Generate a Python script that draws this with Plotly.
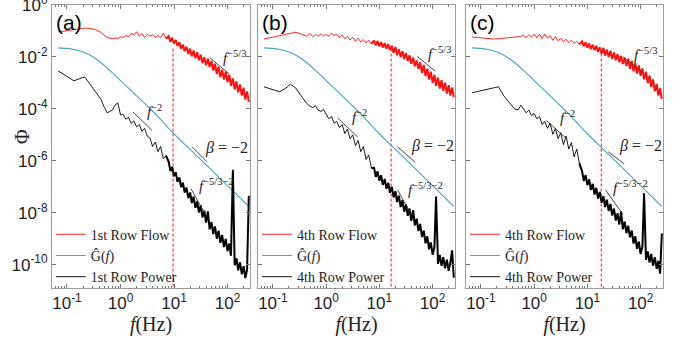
import plotly.graph_objects as go

# ---------------- data (frequencies in Hz, spectra as log10 of Phi) ----------------
F_LO = [0.068, 0.085, 0.107, 0.135, 0.17, 0.214, 0.269, 0.339, 0.427, 0.501,
        0.562, 0.631, 0.708, 0.794, 0.891, 1.0, 1.12, 1.26, 1.41, 1.58,
        1.78, 2.0, 2.24, 2.51, 2.82, 3.16, 3.55, 3.98, 4.47, 5.01,
        5.62, 6.31, 7.08]
F_HI = [7.94, 8.57, 9.25, 10.0, 10.8, 11.6, 12.6, 13.6, 14.7, 15.8,
        17.1, 18.5, 20.0, 21.5, 23.2, 25.1, 27.1, 29.2, 31.6, 34.1,
        36.8, 39.8, 43.0, 46.3, 50.1, 54.1, 58.3, 63.1, 68.1, 73.5,
        79.4, 85.7, 92.5, 100, 108, 116, 126, 136, 147, 158,
        171, 185, 200, 215, 232, 250]

FLOW_A_LO = [-1.04, -1.00, -0.98, -0.95, -0.92, -0.89, -0.90, -0.95, -1.05, -1.15,
             -1.25, -1.28, -1.30, -1.27, -1.30, -1.22, -1.25, -1.17, -1.22, -1.10,
             -1.15, -1.03, -1.20, -1.10, -1.25, -1.13, -1.20, -1.15, -1.25, -1.17,
             -1.26, -1.08, -1.30]
FLOW_A_HI = [-1.20, -1.41, -1.26, -1.48, -1.35, -1.58, -1.44, -1.68, -1.53, -1.78,
             -1.61, -1.89, -1.68, -1.98, -1.75, -2.05, -1.82, -2.13, -1.92, -2.24,
             -2.01, -2.32, -2.07, -2.39, -2.16, -2.52, -2.26, -2.66, -2.38, -2.78,
             -2.49, -2.87, -2.57, -2.97, -2.69, -3.11, -2.83, -3.25, -2.94, -3.36,
             -3.06, -3.49, -3.19, -3.64, -3.33, -3.73]
FLOW_B_LO = [-1.31, -1.27, -1.22, -1.18, -1.13, -1.08, -1.05, -1.12, -1.20, -1.10,
             -1.22, -1.14, -1.20, -1.12, -1.19, -1.14, -1.20, -1.08, -1.18, -1.12,
             -1.26, -1.15, -1.30, -1.20, -1.35, -1.25, -1.40, -1.28, -1.42, -1.33,
             -1.46, -1.36, -1.50]
FLOW_B_HI = [-1.37, -1.56, -1.39, -1.59, -1.43, -1.64, -1.47, -1.68, -1.51, -1.73,
             -1.57, -1.84, -1.62, -1.93, -1.70, -2.00, -1.78, -2.08, -1.85, -2.16,
             -1.94, -2.26, -2.03, -2.36, -2.14, -2.46, -2.21, -2.61, -2.31, -2.74,
             -2.45, -2.87, -2.57, -3.00, -2.69, -3.11, -2.80, -3.22, -2.89, -3.30,
             -2.99, -3.41, -3.09, -3.49, -3.18, -3.55]
FLOW_C_LO = [-1.23, -1.25, -1.28, -1.30, -1.31, -1.30, -1.28, -1.25, -1.22, -1.20,
             -1.21, -1.16, -1.26, -1.14, -1.24, -1.12, -1.27, -1.13, -1.30, -1.12,
             -1.28, -1.18, -1.36, -1.22, -1.38, -1.28, -1.42, -1.32, -1.45, -1.36,
             -1.48, -1.40, -1.52]
FLOW_C_HI = [-1.40, -1.59, -1.44, -1.64, -1.48, -1.70, -1.53, -1.74, -1.57, -1.80,
             -1.63, -1.88, -1.65, -1.95, -1.71, -2.00, -1.76, -2.07, -1.83, -2.13,
             -1.89, -2.20, -1.96, -2.27, -2.03, -2.35, -2.07, -2.46, -2.15, -2.55,
             -2.24, -2.64, -2.33, -2.73, -2.44, -2.86, -2.57, -3.00, -2.72, -3.15,
             -2.87, -3.32, -3.04, -3.49, -3.21, -3.62]

POWER_A_LO = [-2.54, -2.66, -2.78, -2.92, -2.84, -2.77, -3.05, -3.35, -3.62, -3.95,
              -4.15, -4.10, -4.04, -3.85, -3.77, -4.23, -4.22, -4.40, -4.32, -4.56,
              -4.46, -4.70, -4.60, -4.86, -4.75, -5.05, -5.12, -5.45, -5.28, -5.65,
              -5.45, -5.92, -5.80]
POWER_A_HI = [-6.03, -6.40, -6.24, -6.60, -6.44, -6.81, -6.64, -7.02, -6.84, -7.23,
              -7.03, -7.44, -7.22, -7.63, -7.38, -7.81, -7.56, -7.99, -7.72, -8.18,
              -7.92, -8.38, -7.95, -8.64, -8.36, -8.82, -8.53, -9.00, -8.69, -9.16,
              -8.86, -9.32, -9.01, -9.48, -9.19, -9.66, -6.35, -10.02, -9.76, -10.22,
              -9.91, -10.37, -10.06, -10.52, -10.20, -7.35]
POWER_B_LO = [-3.15, -3.20, -3.28, -3.34, -3.22, -3.05, -3.20, -3.50, -3.78, -3.90,
              -3.95, -3.88, -4.05, -4.10, -4.02, -4.20, -4.38, -4.30, -4.55, -4.48,
              -4.72, -4.60, -4.95, -4.78, -5.15, -5.00, -5.42, -5.22, -5.65, -5.45,
              -5.95, -5.78, -6.28]
POWER_B_HI = [-6.27, -6.62, -6.41, -6.77, -6.56, -6.93, -6.70, -7.08, -6.85, -7.23,
              -7.00, -7.41, -7.17, -7.59, -7.34, -7.78, -7.52, -7.96, -7.68, -8.12,
              -7.84, -8.31, -7.90, -8.49, -8.23, -8.71, -8.43, -8.94, -8.69, -9.18,
              -8.91, -9.41, -9.14, -9.62, -9.33, -7.38, -9.97, -9.63, -10.05, -9.71,
              -10.14, -9.81, -10.24, -9.93, -9.45, -10.50]
POWER_C_LO = [-3.38, -3.34, -3.30, -3.25, -3.20, -3.15, -3.50, -3.75, -4.00, -4.04,
              -3.86, -4.00, -4.15, -4.05, -4.25, -4.18, -4.38, -4.30, -4.60, -4.48,
              -4.75, -4.55, -4.98, -4.75, -5.15, -4.92, -5.38, -5.05, -5.55, -5.30,
              -5.85, -5.55, -6.10]
POWER_C_HI = [-6.40, -6.78, -6.55, -6.94, -6.71, -7.12, -6.89, -7.30, -7.04, -7.46,
              -7.20, -7.62, -7.36, -7.78, -7.50, -7.93, -7.66, -8.11, -7.84, -8.30,
              -8.02, -8.46, -7.95, -8.64, -8.34, -8.79, -8.50, -8.95, -8.69, -9.19,
              -8.91, -9.39, -9.11, -9.59, -9.31, -7.25, -9.82, -9.49, -9.92, -9.59,
              -10.04, -9.71, -10.16, -9.86, -10.35, -8.80]

G_FREQ = [0.068, 0.1, 0.15, 0.23, 0.35, 0.5, 0.63, 1.0, 2.0, 3.2, 5.0, 9.6, 20, 50, 100, 250]
G_LOG = [-1.65, -1.67, -1.73, -1.86, -2.08, -2.33, -2.52, -2.91, -3.50, -3.90, -4.30,
         -4.93, -5.56, -6.35, -6.96, -7.76]

CUTOFF_HZ = [9.6, 16.6, 18.2]
CUTOFF_TOP_LOG = [-1.60, -1.65, -1.85]

FLOW_NAMES = ["1st Row Flow", "4th Row Flow", "4th Row Flow"]
POWER_NAMES = ["1st Row Power", "4th Row Power", "4th Row Power"]
PANEL_TAGS = ["(a)", "(b)", "(c)"]

# tick decades and their labels
X_TICK_EXP = [-1, 0, 1, 2]
Y_TICK_EXP = [0, -2, -4, -6, -8, -10]

# reference power-law segments: [f^-5/3, f^-2, beta=-2, f^-5/3-2]
REF_LABELS = ["<i>f</i><sup>−5/3</sup>", "<i>f</i><sup>−2</sup>",
              "<i>β</i> = −2", "<i>f</i><sup>−5/3−2</sup>"]
REF_A_F = [[47.1, 106.7], [1.71, 3.88], [21.7, 41.4], [20.8, 38.0]]
REF_A_LOG = [[-2.04, -2.65], [-4.12, -4.83], [-5.46, -6.04], [-7.08, -8.04]]
REF_B_F = [[51.3, 112.0], [1.64, 3.89], [21.9, 46.8], [21.9, 41.7]]
REF_B_LOG = [[-1.98, -2.55], [-4.35, -5.08], [-5.46, -6.05], [-7.12, -8.15]]
REF_C_F = [[46.8, 107.0], [1.70, 4.07], [24.5, 49.0], [21.9, 45.7]]
REF_C_LOG = [[-2.00, -2.58], [-4.45, -5.15], [-5.65, -6.12], [-7.12, -8.05]]

for arr in [FLOW_A_LO, FLOW_B_LO, FLOW_C_LO, POWER_A_LO, POWER_B_LO, POWER_C_LO]:
    assert len(arr) == len(F_LO), len(arr)
for arr in [FLOW_A_HI, FLOW_B_HI, FLOW_C_HI, POWER_A_HI, POWER_B_HI, POWER_C_HI]:
    assert len(arr) == len(F_HI), len(arr)

FLOWS = [(FLOW_A_LO, FLOW_A_HI), (FLOW_B_LO, FLOW_B_HI), (FLOW_C_LO, FLOW_C_HI)]
POWERS = [(POWER_A_LO, POWER_A_HI), (POWER_B_LO, POWER_B_HI), (POWER_C_LO, POWER_C_HI)]
REF_F = [REF_A_F, REF_B_F, REF_C_F]
REF_LOG = [REF_A_LOG, REF_B_LOG, REF_C_LOG]

# ---------------- styling / layout ----------------
RED = "#ff1010"
TEAL = "rgb(74,163,192)"
SEG = "#333333"
FRAME = "#9a9a9a"
TICKC = "#777777"
SANS = "Liberation Sans, Arial, sans-serif"
SERIF = "Liberation Serif, Times New Roman, serif"

LABEL_POS = [
    [(1.88, -2.02), (0.46, -4.10), (1.54, -5.52), (1.43, -6.92)],
    [(1.88, -1.85), (0.44, -4.28), (1.56, -5.44), (1.505, -7.07)],
    [(1.84, -1.90), (0.44, -4.32), (1.56, -5.44), (1.45, -7.00)],
]
DOMAINS = [[0.0, 0.32406], [0.33715, 0.65957], [0.67758, 1.0]]
LEGEND_X = [-0.002, 0.3355, 0.676]


def to_phi(logs):
    return [10 ** v for v in logs]


def decade_text(e):
    return "10<sup>%d</sup>" % e


def add_spectrum(fig, lo, hi, color, name, leg, xa, ya):
    # low-frequency part: thin line (carries the legend entry)
    fig.add_trace(go.Scatter(
        x=F_LO + F_HI[:1], y=to_phi(lo + hi[:1]), mode="lines", name=name,
        line=dict(color=color, width=0.9), legend=leg, xaxis=xa, yaxis=ya))
    # dense high-frequency part: drawn heavier, as in the dense raw spectrum
    fig.add_trace(go.Scatter(
        x=F_LO[-1:] + F_HI, y=to_phi(lo[-1:] + hi), mode="lines", name=name,
        line=dict(color=color, width=2.0), showlegend=False, legend=leg,
        xaxis=xa, yaxis=ya))


fig = go.Figure()
annotations = []
for i in range(3):
    sfx = "" if i == 0 else str(i + 1)
    xa, ya, leg = "x" + sfx, "y" + sfx, "legend" + sfx

    fig.add_trace(go.Scatter(
        x=[CUTOFF_HZ[i], CUTOFF_HZ[i]], y=[1e-12, 10 ** CUTOFF_TOP_LOG[i]],
        mode="lines", line=dict(color=RED, width=1.0, dash="3px,2px"),
        showlegend=False, hoverinfo="skip", xaxis=xa, yaxis=ya))
    add_spectrum(fig, FLOWS[i][0], FLOWS[i][1], RED, FLOW_NAMES[i], leg, xa, ya)
    fig.add_trace(go.Scatter(
        x=G_FREQ, y=to_phi(G_LOG), mode="lines", name="Ĝ(<i>f</i>)",
        line=dict(color=TEAL, width=1.1, shape="spline", smoothing=0.6),
        legend=leg, xaxis=xa, yaxis=ya))
    add_spectrum(fig, POWERS[i][0], POWERS[i][1], "black", POWER_NAMES[i], leg, xa, ya)
    for k in range(4):
        fig.add_trace(go.Scatter(
            x=REF_F[i][k], y=to_phi(REF_LOG[i][k]), mode="lines",
            line=dict(color=SEG, width=0.9), showlegend=False, hoverinfo="skip",
            xaxis=xa, yaxis=ya))
        lx, ly = LABEL_POS[i][k]
        annotations.append(dict(
            x=lx, y=ly, xref=xa, yref=ya, text=REF_LABELS[k], showarrow=False,
            xanchor="left", yanchor="middle",
            font=dict(family=SERIF, size=16 if k == 2 else 15, color="#222")))
    annotations.append(dict(
        x=0.012, y=0.985, xref=xa + " domain", yref=ya + " domain", text=PANEL_TAGS[i],
        showarrow=False, xanchor="left", yanchor="top",
        font=dict(family=SANS, size=21, color="black")))

    xaxis = dict(
        type="log", range=[-1.28, 2.42],
        tickmode="array", tickvals=[10 ** e for e in X_TICK_EXP],
        ticktext=[decade_text(e) for e in X_TICK_EXP],
        domain=DOMAINS[i], anchor=ya, automargin=False,
        showline=True, linecolor=FRAME, linewidth=1, mirror="allticks",
        ticks="inside", ticklen=4, tickcolor=TICKC, showgrid=False, zeroline=False,
        minor=dict(ticks="inside", ticklen=2, tickcolor=TICKC, showgrid=False, dtick="D1"),
        tickfont=dict(family=SANS, size=17, color="#222"),
        title=dict(text="<i>f</i>(Hz)", font=dict(family=SERIF, size=20, color="#222"), standoff=4),
    )
    yaxis = dict(
        type="log", range=[-10.9, 0],
        tickmode="array", tickvals=[10 ** e for e in Y_TICK_EXP],
        ticktext=[decade_text(e) for e in Y_TICK_EXP],
        anchor=xa, domain=[0, 1], automargin=False, ticklabeloverflow="allow",
        showline=True, linecolor=FRAME, linewidth=1, mirror="allticks",
        ticks="inside", ticklen=4, tickcolor=TICKC, showgrid=False, zeroline=False,
        showticklabels=(i == 0),
        tickfont=dict(family=SANS, size=17, color="#222"),
    )
    fig.update_layout(**{"xaxis" + sfx: xaxis, "yaxis" + sfx: yaxis})
    fig.update_layout(**{leg: dict(
        x=LEGEND_X[i], y=0.245, xanchor="left", yanchor="top",
        bgcolor="rgba(0,0,0,0)", borderwidth=0, itemwidth=30,
        font=dict(family=SERIF, size=14, color="#222"))})

annotations.append(dict(
    x=-0.049, y=0.534, xref="paper", yref="paper", text="Φ", showarrow=False,
    xanchor="center", yanchor="middle",
    textangle=-90, font=dict(family=SERIF, size=20, color="#222")))

fig.update_layout(
    width=680, height=349,
    margin=dict(l=52, r=17, t=5, b=61, autoexpand=False),
    paper_bgcolor="white", plot_bgcolor="white",
    annotations=annotations,
)

fig.write_html("out.html", config={"displayModeBar": False},
               post_script="document.body.style.margin='0px';document.body.style.overflow='hidden';")
